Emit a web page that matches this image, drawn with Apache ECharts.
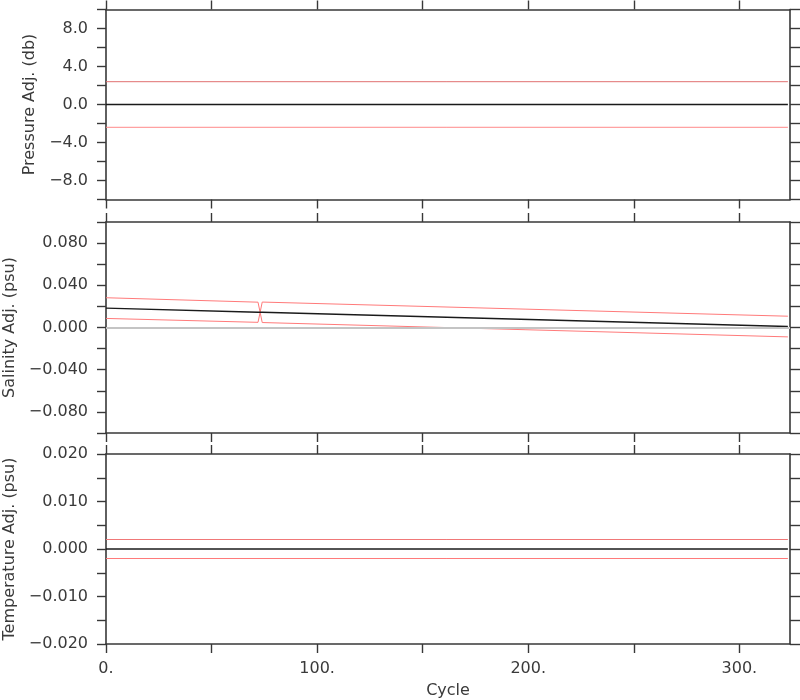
<!DOCTYPE html>
<html><head><meta charset="utf-8">
<script src="https://cdn.jsdelivr.net/npm/echarts@6/dist/echarts.min.js"></script>
<style>html,body{margin:0;padding:0;background:#fff}#c{width:800px;height:700px}</style>
</head><body><div id="c"></div>
<script>
// ---- data ----
const xTickVals = [0, 50, 100, 150, 200, 250, 300];
const xLabelVals = [0, 100, 200, 300];

const presCycles = [0, 323];
const presAdj = [0, 0];
const presUpper = [2.4, 2.4];
const presLower = [-2.4, -2.4];
const presTickVals = [-10, -8, -6, -4, -2, 0, 2, 4, 6, 8, 10];
const presLabelVals = [-8, -4, 0, 4, 8];

const salCycles = [0, 72, 73, 74, 323];
const salAdj = [0.0184, 0.0145, 0.0144, 0.0144, 0.0009];
const salUpper = [0.0282, 0.0240, 0.0144, 0.0241, 0.0107];
const salLower = [0.0086, 0.0049, 0.0144, 0.0047, -0.0089];
const salTickVals = [-0.1, -0.08, -0.06, -0.04, -0.02, 0, 0.02, 0.04, 0.06, 0.08, 0.1];
const salLabelVals = [-0.08, -0.04, 0, 0.04, 0.08];

const tempCycles = [0, 323];
const tempAdj = [0, 0];
const tempUpper = [0.002, 0.002];
const tempLower = [-0.002, -0.002];
const tempTickVals = [-0.02, -0.015, -0.01, -0.005, 0, 0.005, 0.01, 0.015, 0.02];
const tempLabelVals = [-0.02, -0.01, 0, 0.01, 0.02];

// ---- chart ----
const FONT = 'DejaVu Sans';
const FS = 16;
const AX = '#383838';
const TXT = '#3a3a3a';
const xMin = 0, xMax = 324;

function pairs(xs, ys) { return xs.map((x, i) => [x, ys[i]]); }
function fmtY(d) { return v => { let s = Number(v).toFixed(d); if (Math.abs(v) < 1e-12) s = (0).toFixed(d); return s.replace('-', '\u2212'); }; }

const panels = [
  { name: 'Pressure Adj. (db)', min: -10, max: 10, ticks: presTickVals, labels: presLabelVals, d: 1, gap: 66,
    cyc: presCycles, adj: presAdj, up: presUpper, lo: presLower, upColor: '#e07070', loColor: '#ff8a8a', zero: false },
  { name: 'Salinity Adj. (psu)', min: -0.1, max: 0.1, ticks: salTickVals, labels: salLabelVals, d: 3, gap: 88,
    cyc: salCycles, adj: salAdj, up: salUpper, lo: salLower, upColor: '#ff7a7a', loColor: '#ff7a7a', zero: true },
  { name: 'Temperature Adj. (psu)', min: -0.02, max: 0.02, ticks: tempTickVals, labels: tempLabelVals, d: 3, gap: 88,
    cyc: tempCycles, adj: tempAdj, up: tempUpper, lo: tempLower, upColor: '#f07878', loColor: '#ff7a7a', zero: false }
];
const gridPos = [
  { left: 106, top: 9.5, width: 684, height: 190 },
  { left: 106, top: 222, width: 684, height: 211 },
  { left: 106, top: 454, width: 684, height: 190 }
];

const grid = [], xAxis = [], yAxis = [], series = [];
panels.forEach((p, i) => {
  grid.push(Object.assign({ containLabel: false, outerBoundsMode: 'none' }, gridPos[i]));
  const line = { show: true, onZero: false, lineStyle: { color: AX, width: 1.6 } };
  const tick = { show: true, inside: false, length: 9, lineStyle: { color: AX, width: 1.4 }, customValues: xTickVals };
  xAxis.push({
    type: 'value', gridIndex: i, position: 'bottom', min: xMin, max: xMax,
    axisLine: line, axisTick: tick, splitLine: { show: false },
    axisLabel: i === 2 ? { show: true, customValues: xLabelVals, formatter: v => v + '.', color: TXT, fontFamily: FONT, fontSize: FS, margin: 17 } : { show: false },
    name: i === 2 ? 'Cycle' : '', nameLocation: 'middle', nameGap: 39,
    nameTextStyle: { color: TXT, fontFamily: FONT, fontSize: FS }
  });
  xAxis.push({
    type: 'value', gridIndex: i, position: 'top', min: xMin, max: xMax,
    axisLine: line, axisTick: tick, splitLine: { show: false }, axisLabel: { show: false }
  });
  const ytick = { show: true, inside: false, length: 9, lineStyle: { color: AX, width: 1.4 }, customValues: p.ticks };
  yAxis.push({
    type: 'value', gridIndex: i, position: 'left', min: p.min, max: p.max,
    axisLine: line, axisTick: ytick, splitLine: { show: false },
    axisLabel: { show: true, customValues: p.labels, formatter: fmtY(p.d), color: TXT, fontFamily: FONT, fontSize: FS, margin: 18 },
    name: p.name, nameLocation: 'middle', nameGap: p.gap,
    nameTextStyle: { color: TXT, fontFamily: FONT, fontSize: FS }
  });
  yAxis.push({
    type: 'value', gridIndex: i, position: 'right', min: p.min, max: p.max,
    axisLine: line, axisTick: Object.assign({}, ytick, { length: 10 }), splitLine: { show: false }, axisLabel: { show: false }
  });
  const xi = i * 2, yi = i * 2;
  const base = { type: 'line', xAxisIndex: xi, yAxisIndex: yi, symbol: 'none', silent: true, animation: false };
  if (p.zero) {
    series.push(Object.assign({}, base, {
      data: [], markLine: { silent: true, symbol: 'none', label: { show: false }, animation: false,
        lineStyle: { color: '#c4c4c4', width: 2, type: 'solid' }, data: [{ yAxis: 0 }] }
    }));
  }
  series.push(Object.assign({}, base, { data: pairs(p.cyc, p.up), lineStyle: { color: p.upColor, width: 1 } }));
  series.push(Object.assign({}, base, { data: pairs(p.cyc, p.lo), lineStyle: { color: p.loColor, width: 1 } }));
  series.push(Object.assign({}, base, { data: pairs(p.cyc, p.adj), lineStyle: { color: '#1a1a1a', width: 1.4 } }));
});

const chart = echarts.init(document.getElementById('c'), null, { renderer: 'canvas' });
chart.setOption({ animation: false, backgroundColor: '#fff', grid, xAxis, yAxis, series });
</script>
</body></html>
